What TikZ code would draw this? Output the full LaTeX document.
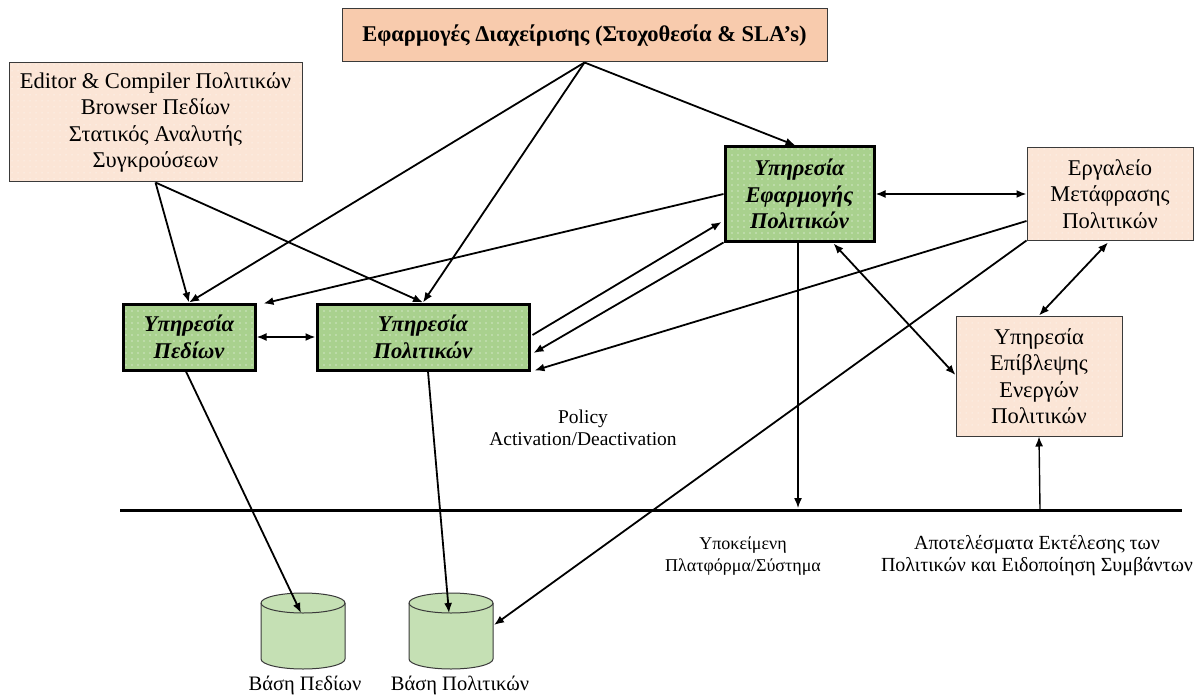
\documentclass[tikz,border=0pt]{standalone}
\usepackage{fontspec}
\setmainfont{Liberation Serif}
\usetikzlibrary{arrows.meta,calc,patterns.meta}

\definecolor{peach}{HTML}{F8CBAD}
\definecolor{blush}{HTML}{FBE5D6}
\definecolor{leaf}{HTML}{A9D18E}
\definecolor{mint}{HTML}{C5E0B4}
\definecolor{rim}{HTML}{3A3A3A}

\tikzset{
  boxbase/.style={align=center, inner sep=0pt},
  mgmtbox/.style={boxbase, draw=rim, line width=1pt, fill=peach,
    font=\fontsize{22.5}{26}\selectfont\bfseries},
  toolbox/.style={boxbase, draw=rim, line width=1pt,
    preaction={fill=blush}, pattern={Dots[distance=6pt,radius=0.5pt]}, pattern color=white,
    font=\fontsize{22.5}{26.5}\selectfont},
  servicebox/.style={boxbase, draw=black, line width=3pt,
    preaction={fill=leaf}, pattern={Dots[distance=6pt,radius=0.55pt]}, pattern color=white,
    font=\fontsize{22.5}{26.5}\selectfont\bfseries\itshape},
  note/.style={align=center, inner sep=0pt, font=\fontsize{19.5}{22.5}\selectfont},
  link/.style={line width=1.8pt, -{Latex[length=10pt,width=8pt]}},
  twoway/.style={line width=1.8pt, {Latex[length=10pt,width=8pt]}-{Latex[length=10pt,width=8pt]}},
  dbbody/.style={fill=mint, draw=rim, line width=1pt},
}

\begin{document}
\begin{tikzpicture}[x=1pt,y=-1pt]
\fill[white] (0,0) rectangle (1201,695);
\useasboundingbox (0,0) rectangle (1201,695);

% ---- boxes ----
\node[mgmtbox, minimum width=485, minimum height=53] (mgmt) at (584.5,35.5)
  {Εφαρμογές Διαχείρισης (Στοχοθεσία \& SLA’s)};
\node[toolbox, minimum width=293, minimum height=119] (editor) at (155.5,122.5)
  {Editor \& Compiler Πολιτικών\\Browser Πεδίων\\Στατικός Αναλυτής\\Συγκρούσεων};
\node[servicebox, minimum width=132, minimum height=66] (fields) at (189,337)
  {Υπηρεσία\\Πεδίων};
\node[servicebox, minimum width=212, minimum height=66] (policies) at (423,337)
  {Υπηρεσία\\Πολιτικών};
\node[servicebox, minimum width=149, minimum height=94] (enforce) at (799.5,194)
  {Υπηρεσία\\Εφαρμογής\\Πολιτικών};
\node[toolbox, minimum width=166, minimum height=92] (translate) at (1110,194)
  {Εργαλείο\\Μετάφρασης\\Πολιτικών};
\node[toolbox, minimum width=166, minimum height=120] (monitor) at (1039,376)
  {Υπηρεσία\\Επίβλεψης\\Ενεργών\\Πολιτικών};

% ---- underlying platform line ----
\coordinate (plat-l) at (120,510);
\coordinate (plat-r) at (1182,510);
\coordinate (plat-in) at (798,508);
\coordinate (plat-out) at (1040,509);
\draw[line width=3pt] (plat-l) -- (plat-r);

% ---- databases ----
\foreach \cx/\nm in {303/dbf, 451/dbp}{
  \draw[dbbody] (\cx-42,603) -- (\cx-42,659)
    arc[start angle=180,end angle=360,x radius=42pt,y radius=10pt]
    -- (\cx+42,603)
    arc[start angle=0,end angle=180,x radius=42pt,y radius=10pt] -- cycle;
  \draw[rim, line width=1pt] (\cx-42,603)
    arc[start angle=180,end angle=360,x radius=42pt,y radius=10pt];
  \coordinate (\nm-top) at (\cx-2,613);
  \coordinate (\nm-side) at (\cx+43,625);
}

% ---- labels ----
\node[note] (act) at (583,428) {Policy\\Activation/Deactivation};
\node[note, font=\fontsize{18}{22}\selectfont] (platform) at (743,556) {Υποκείμενη\\Πλατφόρμα/Σύστημα};
\node[note, font=\fontsize{20}{22}\selectfont] (results) at (1037,556) {Αποτελέσματα Εκτέλεσης των\\Πολιτικών και Ειδοποίηση Συμβάντων};
\node[note, font=\fontsize{20.5}{22}\selectfont] (dbf-label) at (305,685) {Βάση Πεδίων};
\node[note, font=\fontsize{20.5}{22}\selectfont] (dbp-label) at (460,685) {Βάση Πολιτικών};

% ---- connectors ----
\draw[link] (mgmt.south) -- ($(enforce.north)+(-4,0)$);
\draw[link] (mgmt.south) -- (fields.north);
\draw[link] (mgmt.south) -- (policies.north);
\draw[link] (editor.south) -- (fields.north);
\draw[link] (editor.south) -- (policies.north);
\draw[twoway] (fields.east) -- (policies.west);
\draw[link] (enforce.west) -- ($(fields.north east)+(7,1)$);
\draw[link] ($(policies.east)+(2,-2)$) -- ($(enforce.west)+(-2,28)$);
\draw[link] (enforce.south west) -- ($(policies.east)+(3,16)$);
\draw[link] ($(translate.west)+(0,27)$) -- ($(policies.south east)+(4,-1)$);
\draw[link] (translate.south west) -- (dbp-side);
\draw[twoway] (enforce.east) -- (translate.west);
\draw[twoway] ($(enforce.south)+(34,1)$) -- ($(monitor.west)+(0,-1)$);
\draw[twoway] ($(translate.south)+(-2,2)$) -- (monitor.north);
\draw[link] ($(fields.south)+(-3,0)$) -- (dbf-top);
\draw[link] ($(policies.south)+(5,0)$) -- (dbp-top);
\draw[link, line width=1.4pt] ($(enforce.south)+(-1.5,0)$) -- (plat-in);
\draw[link, line width=1.4pt] (plat-out) -- (monitor.south);
\end{tikzpicture}
\end{document}
